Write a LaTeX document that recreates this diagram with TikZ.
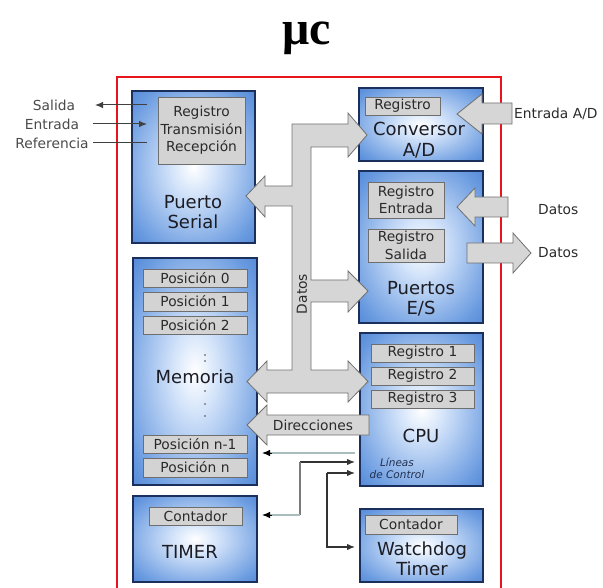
\documentclass[tikz,border=0pt]{standalone}
\usepackage{fontspec}
\setmainfont{DejaVu Sans}
\newfontfamily\titlefont{Liberation Serif}
\usetikzlibrary{fit,arrows.meta}

\definecolor{chipB}{HTML}{D4E4FA}
\definecolor{chipC}{HTML}{6A9BE0}
\definecolor{chipD}{HTML}{215FC4}
\definecolor{chipedge}{HTML}{1B2F5C}
\definecolor{regfill}{HTML}{D3D3D3}
\definecolor{regedge}{HTML}{6E6E6E}
\definecolor{busfill}{HTML}{D6D6D6}
\definecolor{busedge}{HTML}{707070}
\definecolor{txt}{HTML}{2A2A2A}
\definecolor{bigtxt}{HTML}{1C1C24}
\definecolor{lbl}{HTML}{4A4A4A}
\definecolor{ctllight}{HTML}{A9BDBD}
\definecolor{ctldark}{HTML}{7A7A7A}
\definecolor{frame}{HTML}{E8141C}
\definecolor{ctltxt}{HTML}{203050}

\pgfdeclareradialshading{chipshade}{\pgfpoint{0bp}{0bp}}{%
  color(0bp)=(white); color(9bp)=(chipB); color(30bp)=(chipC);
  color(50bp)=(chipD); color(100bp)=(chipD)}

\tikzset{
  chip/.style={draw=chipedge, line width=1.4pt, shade, shading=chipshade, inner sep=0pt},
  reg/.style={draw=regedge, fill=regfill, line width=0.9pt, inner sep=0pt},
  regtxt/.style={font=\fontsize{13.8}{17.5}\selectfont, text=txt, align=center, inner sep=0pt},
  big/.style={font=\fontsize{18}{20.5}\selectfont, text=bigtxt, align=center, inner sep=0pt},
  small/.style={font=\fontsize{13.8}{15}\selectfont, inner sep=0pt},
  bus/.style={fill=busfill, draw=busedge, line width=0.8pt, line join=miter},
  tip/.style={-{Latex[length=8pt,width=6.5pt]}},
  ctlA/.style={draw=ctllight, line width=2.4pt},
  ctlB/.style={draw=ctldark, line width=1.3pt},
  memdot/.style={fill=lbl, draw=none}
}

\begin{document}
\begin{tikzpicture}[x=1pt,y=-1pt]
\useasboundingbox (0,0) rectangle (603,588);

% title
\node[font=\titlefont\bfseries\fontsize{48}{48}\selectfont, anchor=base, inner sep=0pt] (title) at (307,45) {μc};

% red frame
\begin{scope}
\clip (0,0) rectangle (603,588);
\draw[frame, line width=2.8pt] (117,77) rectangle (501,620);
\end{scope}

% ---- Puerto Serial
\node[chip, fit={(132,91) (255,243)}] (ser) {};
\node[reg, fit={(158,97) (245,164)}] (serreg) {};
\node[regtxt] (serregt) at (serreg.center) {Registro\\Transmisión\\Recepción};
\node[big] (serlbl) at (193,212) {Puerto\\Serial};

% ---- Conversor A/D
\node[chip, fit={(359,88) (483,161)}] (adc) {};
\node[reg, fit={(365,97) (440,115)}] (adcreg) {};
\node[regtxt] (adcregt) at (adcreg.center) {Registro};
\node[big] (adclbl) at (419,140) {Conversor\\A/D};

% ---- Puertos E/S
\node[chip, fit={(359,171) (483,323)}] (pes) {};
\node[reg, fit={(368,182) (444,218)}] (pesin) {};
\node[regtxt] (pesint) at (pesin.center) {Registro\\Entrada};
\node[reg, fit={(368,229) (444,262)}] (pesout) {};
\node[regtxt] (pesoutt) at (pesout.center) {Registro\\Salida};
\node[big] (peslbl) at (421,299) {Puertos\\E/S};

% ---- Memoria
\node[chip, fit={(133,258) (257,485)}] (mem) {};
\node[reg, fit={(143,269) (247,287)}] (pos0) {};
\node[regtxt] (pos0t) at (pos0.center) {Posición 0};
\node[reg, fit={(143,292) (247,311)}] (pos1) {};
\node[regtxt] (pos1t) at (pos1.center) {Posición 1};
\node[reg, fit={(143,316) (247,334)}] (pos2) {};
\node[regtxt] (pos2t) at (pos2.center) {Posición 2};
\node[reg, fit={(143,435) (247,453)}] (posn1) {};
\node[regtxt] (posn1t) at (posn1.center) {Posición n-1};
\node[reg, fit={(143,458) (247,477)}] (posn) {};
\node[regtxt] (posnt) at (posn.center) {Posición n};
\node[big] (memlbl) at (195,377) {Memoria};
\foreach \yy in {355,361,391,404,416} \fill[memdot] (205,\yy) circle (0.9);

% ---- CPU
\node[chip, fit={(360,333) (483,486)}] (cpu) {};
\node[reg, fit={(371,344) (474,362)}] (r1) {};
\node[regtxt] (r1t) at (r1.center) {Registro 1};
\node[reg, fit={(371,367) (474,385)}] (r2) {};
\node[regtxt] (r2t) at (r2.center) {Registro 2};
\node[reg, fit={(371,390) (474,408)}] (r3) {};
\node[regtxt] (r3t) at (r3.center) {Registro 3};
\node[big] (cpulbl) at (421,436) {CPU};
\node[font=\itshape\fontsize{10.5}{11.5}\selectfont, text=ctltxt, align=center, inner sep=0pt] (ctllbl) at (397,468.5) {Líneas\\de Control};

% ---- TIMER
\node[chip, fit={(133,496) (257,582)}] (tmr) {};
\node[reg, fit={(149,507) (242,525)}] (tmrc) {};
\node[regtxt] (tmrct) at (tmrc.center) {Contador};
\node[big] (tmrlbl) at (190,552) {TIMER};

% ---- Watchdog
\node[chip, fit={(360,509) (483,582)}] (wdt) {};
\node[reg, fit={(365,515) (457,534)}] (wdtc) {};
\node[regtxt] (wdtct) at (wdtc.center) {Contador};
\node[big] (wdtlbl) at (422,559) {Watchdog\\Timer};

% ---- data bus
\draw[bus] (292,124) -- (348,124) -- (348,113) -- (367,135) -- (348,157) -- (348,147)
  -- (311,147) -- (311,280) -- (348,280) -- (348,271) -- (368,291) -- (348,312) -- (348,302)
  -- (311,302) -- (311,370) -- (348,370) -- (348,361) -- (368,381.5) -- (348,402) -- (348,393)
  -- (267,393) -- (267,402) -- (247,381.5) -- (267,361) -- (267,370) -- (292,370)
  -- (292,206) -- (265,206) -- (265,217) -- (246,196) -- (265,176) -- (265,186)
  -- (292,186) -- cycle;
\node[small, text=txt, rotate=90] (datbus) at (302,294) {Datos};

% ---- address bus
\draw[bus] (369,415) -- (267,415) -- (267,405) -- (247,425) -- (267,445) -- (267,435) -- (369,435) -- cycle;
\node[small, text=txt] (dirlbl) at (313,425) {Direcciones};

% ---- external arrows
\draw[bus] (512,103) -- (482,103) -- (482,94) -- (457,114) -- (482,134) -- (482,124) -- (512,124) -- cycle;
\node[small, text=txt, anchor=west] (adin) at (514,113.5) {Entrada A/D};
\draw[bus] (508,197) -- (475,197) -- (475,188) -- (457,207) -- (475,226) -- (475,217) -- (508,217) -- cycle;
\node[small, text=txt, anchor=west] (datin) at (538,210) {Datos};
\draw[bus] (467,243) -- (513,243) -- (513,233) -- (531,253) -- (513,273) -- (513,263) -- (467,263) -- cycle;
\node[small, text=txt, anchor=west] (datout) at (538,253) {Datos};

% ---- serial lines
\node[small, text=lbl] (sal) at (54,105) {Salida};
\node[small, text=lbl] (ent) at (52,124) {Entrada};
\node[small, text=lbl] (ref) at (52,143) {Referencia};
\coordinate (salA) at (147,105); \coordinate (salB) at (95,105);
\coordinate (entA) at (93,124); \coordinate (entB) at (147,124);
\coordinate (refA) at (93,143); \coordinate (refB) at (147,143);
\draw[tip, line width=1pt, black!75] (salA) -- (salB);
\draw[tip, line width=1pt, black!75] (entA) -- (entB);
\draw[line width=1pt, black!75] (refA) -- (refB);

% ---- control lines
\coordinate (m1) at (262,453); \coordinate (c1) at (355,453);
\draw[ctlA] (c1) -- (270,453);
\path[tip, black, line width=1pt] (272,453) edge (m1);

\coordinate (c2) at (355,462); \coordinate (k2) at (300,462);
\coordinate (k2b) at (300,515); \coordinate (t2) at (262,515);
\draw[ctlB, tip, black!80] (k2) -- (c2);
\draw[ctlB] (k2) -- (k2b);
\draw[ctlA] (k2b) -- (270,515);
\path[tip, black, line width=1pt] (272,515) edge (t2);

\coordinate (c3) at (355,473); \coordinate (k3) at (327,473);
\coordinate (k3b) at (327,547); \coordinate (w3) at (355,547);
\draw[ctlB, tip, black!80] (k3) -- (c3);
\draw[ctlB, tip, black!80] (k3) -- (k3b) -- (w3);
\end{tikzpicture}
\end{document}
